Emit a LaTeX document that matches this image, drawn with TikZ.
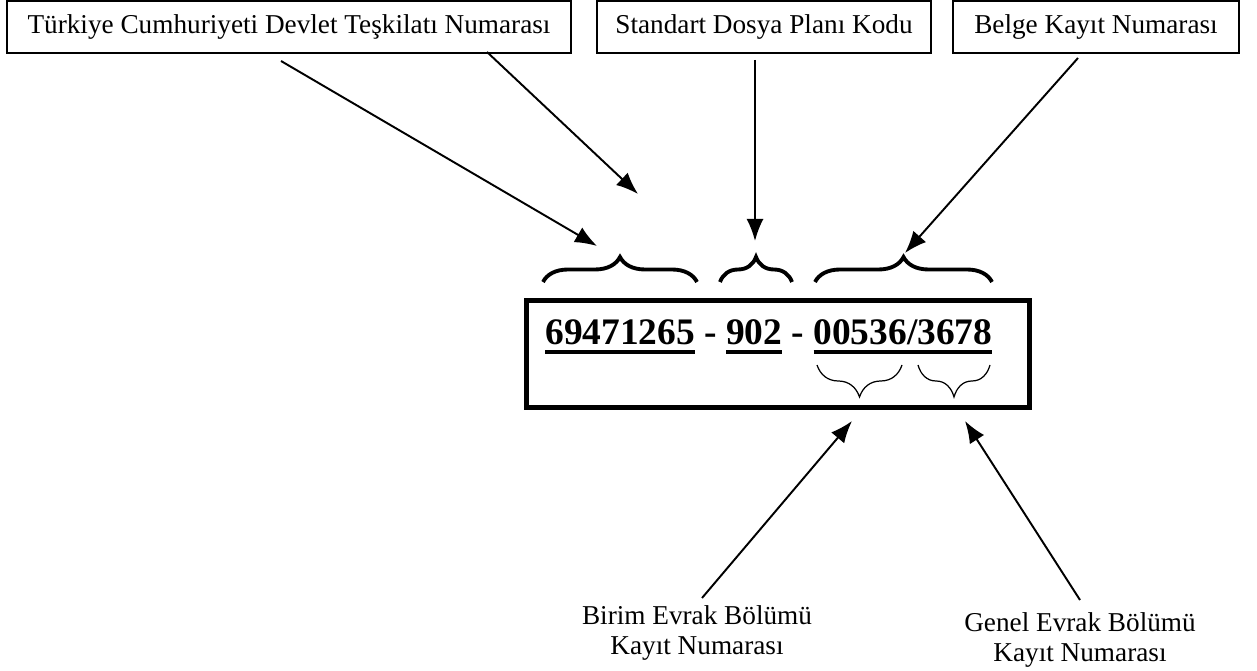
\documentclass[tikz,border=0pt]{standalone}
\usepackage{fontspec}
\setmainfont{Liberation Serif}
\usetikzlibrary{calc}
\usetikzlibrary{arrows.meta}
\usetikzlibrary{decorations.pathreplacing}
\newcommand{\ulnum}[1]{\setbox0\hbox{#1}\rlap{\raisebox{-5pt}{\rule{\wd0}{2pt}}}\box0\relax}

\begin{document}
\begin{tikzpicture}[x=0.02cm,y=-0.02cm,inner sep=0pt,
  lbl/.style={draw,line width=0.9pt,minimum height=1.04cm,font=\fontsize{15.5}{17.6}\selectfont},
  ptr/.style={line width=1.1pt,-{Latex[length=0.44cm,width=0.34cm]}},
  topbrace/.style={line width=2.2pt,decorate,decoration={brace,amplitude=0.5cm}},
  lowbrace/.style={line width=0.7pt,decorate,decoration={brace,mirror,amplitude=0.64cm}}]
\useasboundingbox (0,0) rectangle (1257,671);
\def\fs{\fontsize{15.5}{17.6}\selectfont}

% top boxes
\node[lbl,minimum width=11.28cm] (tc) at (289,27) {Türkiye Cumhuriyeti Devlet Teşkilatı Numarası};
\node[lbl,minimum width=6.68cm] (sdp) at (764,27) {Standart Dosya Planı Kodu};
\node[lbl,minimum width=5.72cm] (bkn) at (1096,27) {Belge Kayıt Numarası};

% number box
\node[draw,line width=2.8pt,minimum width=10.06cm,minimum height=2.14cm] (kod) at (778,354) {};
\node[anchor=base west,font=\fontsize{21.3}{24}\selectfont\bfseries] (num) at (545,345)
  {\ulnum{69471265} - \ulnum{902} - \ulnum{00536/3678}};

% bottom labels
\node[align=center,font=\fs] (birim) at (697,633) {Birim Evrak Bölümü\\Kayıt Numarası};
\node[align=center,font=\fs] (genel) at (1080,640) {Genel Evrak Bölümü\\Kayıt Numarası};

% braces
\draw[topbrace] (543,282) -- (697,282);
\draw[topbrace] (720,282) -- (792,282);
\draw[topbrace] (815,282) -- (992,282);
\draw[lowbrace] (817,365) -- (902,365);
\draw[lowbrace] (918,365) -- (990,365);

% arrow ends
\coordinate (tc1) at (281,61);
\coordinate (tc2) at (487,52);
\coordinate (sdp1) at (755,60);
\coordinate (bkn1) at (1078,58);
\coordinate (birim1) at (702,598);
\coordinate (genel1) at (1080,600);
\coordinate (b1) at (597,246);
\coordinate (b2) at (638,194);
\coordinate (b3) at (755,241);
\coordinate (b4) at (905,253);
\coordinate (b5) at (852,421);
\coordinate (b6) at (965,421);

\draw[ptr] (tc1) -- (b1);
\draw[ptr] (tc2) -- (b2);
\draw[ptr] (sdp1) -- (b3);
\draw[ptr] (bkn1) -- (b4);
\draw[ptr] (birim1) -- (b5);
\draw[ptr] (genel1) -- (b6);
\end{tikzpicture}
\end{document}
